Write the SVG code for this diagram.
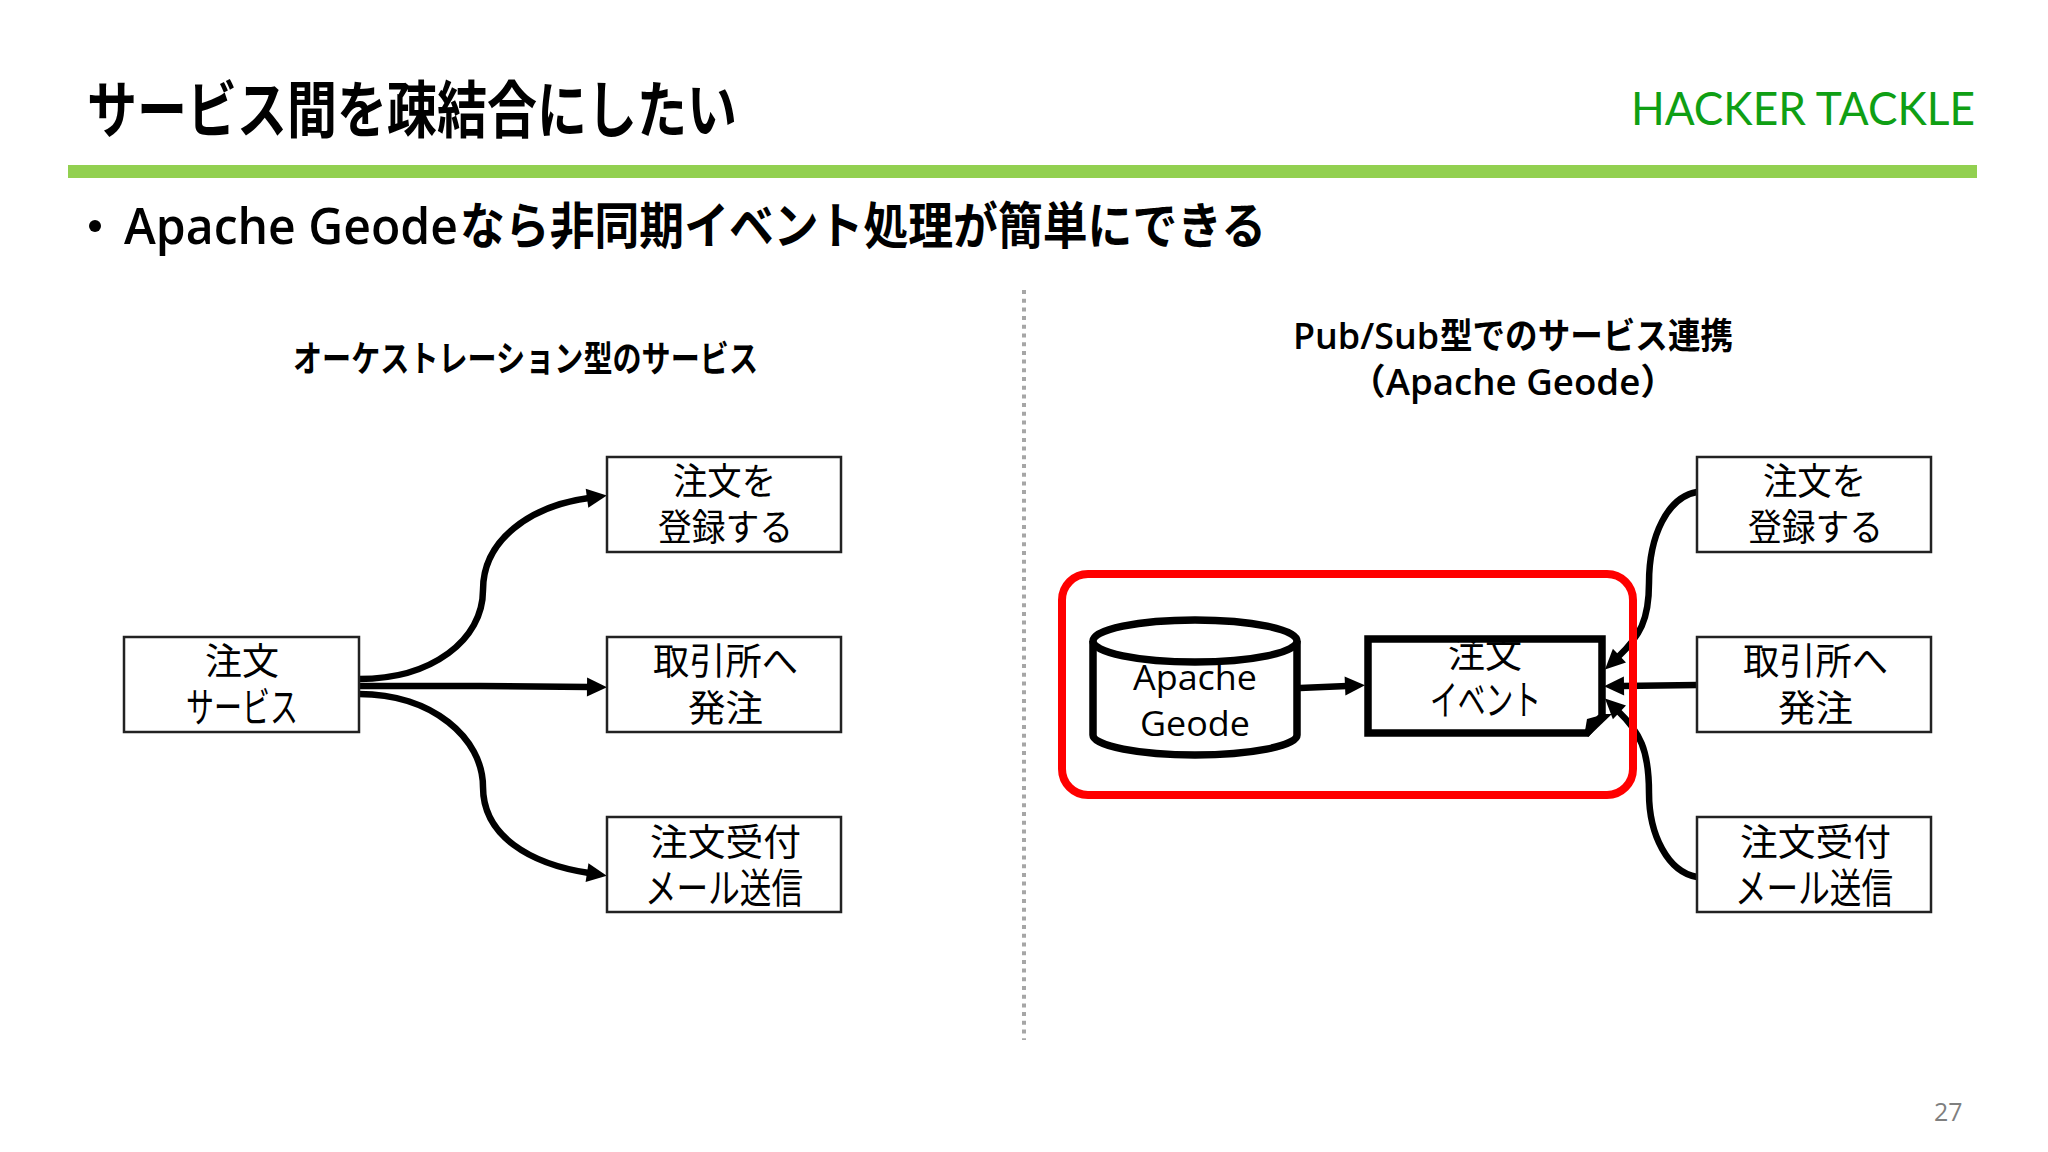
<svg xmlns="http://www.w3.org/2000/svg" width="2048" height="1152" viewBox="0 0 2048 1152">
<style>
text{font-family:"Noto Sans CJK JP","Noto Sans",sans-serif;fill:#000}
.lat{font-family:"Open Sans","Noto Sans CJK JP",sans-serif}
.box{fill:#fff;stroke:#222;stroke-width:2.5}
.n{font-size:37px;font-weight:400}
.k{font-size:41px;font-weight:400}
.con{fill:none;stroke:#000;stroke-width:6.5}
.heavy{fill:#fff;stroke:#000;stroke-width:7.5}
.h{font-size:36px;font-weight:700}
.s{font-weight:600}
</style>
<defs>
<marker id="arrow" markerUnits="userSpaceOnUse" markerWidth="24" markerHeight="22" refX="2" refY="11" orient="auto" overflow="visible"><path d="M0,1.5 L20,11 L0,20.5 Z" fill="#000"/></marker>
</defs>
<rect width="2048" height="1152" fill="#fff"/>
<text id="title" x="87" y="133" font-size="62" font-weight="700" textLength="650" lengthAdjust="spacingAndGlyphs">サービス間を疎結合にしたい</text>
<text id="logo" x="1631" y="125" font-size="47" style="font-family:Lato,sans-serif;fill:#0f9f14" textLength="344" lengthAdjust="spacingAndGlyphs">HACKER TACKLE</text>
<rect id="rule" x="68" y="165" width="1909" height="13" fill="#92d050"/>
<circle cx="95" cy="226" r="6" fill="#000"/>
<text id="bullet" y="244" font-size="50" font-weight="700"><tspan class="lat s" x="124" textLength="334" lengthAdjust="spacingAndGlyphs">Apache Geode</tspan><tspan x="460" textLength="806" lengthAdjust="spacingAndGlyphs">なら非同期イベント処理が簡単にできる</tspan></text>
<line id="divider" x1="1024" y1="290" x2="1024" y2="1040" stroke="#a6a6a6" stroke-width="4" stroke-dasharray="4 4.7"/>
<text id="h1" class="h" x="293" y="372" textLength="465" lengthAdjust="spacingAndGlyphs">オーケストレーション型のサービス</text>
<text id="h2" class="h" y="349"><tspan class="lat s" x="1293" textLength="146" lengthAdjust="spacingAndGlyphs">Pub/Sub</tspan><tspan x="1440" textLength="293" lengthAdjust="spacingAndGlyphs">型でのサービス連携</tspan></text>
<text id="h3" class="h lat s" x="1349" y="395" textLength="328" lengthAdjust="spacingAndGlyphs">（Apache Geode）</text>

<g id="connectors">
<path class="con" d="M359,679 C432,679 483,640 483,590 C483,540 530,506 589,498" marker-end="url(#arrow)"/>
<path class="con" d="M359,686 L480,686 L589,687" marker-end="url(#arrow)"/>
<path class="con" d="M359,694 C432,694 483,738 483,787 C483,836 530,864 589,873" marker-end="url(#arrow)"/>
<path class="con" d="M1697,492 C1668,497 1649,535 1649,583 C1649,620 1640,636 1618,657" marker-end="url(#arrow)"/>
<path class="con" d="M1697,685 L1622,686" marker-end="url(#arrow)"/>
<path class="con" d="M1697,877 C1668,872 1649,835 1649,793 C1649,750 1640,732 1618,711" marker-end="url(#arrow)"/>
<path class="con" d="M1300,688 L1347,686" marker-end="url(#arrow)"/>
</g>

<g id="n-order"><rect class="box" x="124" y="637" width="235" height="95"/>
<text class="n" x="205" y="675" textLength="74" lengthAdjust="spacingAndGlyphs">注文</text>
<text class="k" x="186" y="722" textLength="112" lengthAdjust="spacingAndGlyphs">サービス</text></g>
<g id="n-reg-l"><rect class="box" x="607" y="457" width="234" height="95"/>
<text class="n" x="673" y="495" textLength="103" lengthAdjust="spacingAndGlyphs">注文を</text>
<text class="n" x="658" y="541" textLength="135" lengthAdjust="spacingAndGlyphs">登録する</text></g>
<g id="n-ex-l"><rect class="box" x="607" y="637" width="234" height="95"/>
<text class="n" x="653" y="675" textLength="145" lengthAdjust="spacingAndGlyphs">取引所へ</text>
<text class="n" x="688" y="722" textLength="75" lengthAdjust="spacingAndGlyphs">発注</text></g>
<g id="n-mail-l"><rect class="box" x="607" y="817" width="234" height="95"/>
<text class="n" x="650" y="856" textLength="151" lengthAdjust="spacingAndGlyphs">注文受付</text>
<text class="k" x="645" y="903" textLength="158" lengthAdjust="spacingAndGlyphs">メール送信</text></g>

<g id="n-geode">
<path class="heavy" d="M1093,641 V735 C1093,746 1140,755 1195,755 C1250,755 1297,746 1297,735 V641"/>
<ellipse class="heavy" cx="1195" cy="641" rx="102" ry="21"/>
<text class="lat" x="1133" y="690" font-size="35" textLength="124" lengthAdjust="spacingAndGlyphs">Apache</text>
<text class="lat" x="1140" y="736" font-size="35" textLength="110" lengthAdjust="spacingAndGlyphs">Geode</text>
</g>
<g id="n-event">
<path class="heavy" d="M1368,639 H1602 V716 L1587,733 H1368 Z"/>
<path d="M1585,731 L1587,719 L1605,714 L1612,714 L1588,737 Z" fill="#000"/>
<text class="n" x="1448" y="668" textLength="74" lengthAdjust="spacingAndGlyphs">注文</text>
<text class="k" x="1430" y="715" textLength="111" lengthAdjust="spacingAndGlyphs">イベント</text>
</g>
<rect id="highlight" x="1062" y="574" width="571" height="221" rx="26" fill="none" stroke="#f00" stroke-width="8"/>

<g id="n-reg-r"><rect class="box" x="1697" y="457" width="234" height="95"/>
<text class="n" x="1763" y="495" textLength="103" lengthAdjust="spacingAndGlyphs">注文を</text>
<text class="n" x="1748" y="541" textLength="135" lengthAdjust="spacingAndGlyphs">登録する</text></g>
<g id="n-ex-r"><rect class="box" x="1697" y="637" width="234" height="95"/>
<text class="n" x="1743" y="675" textLength="145" lengthAdjust="spacingAndGlyphs">取引所へ</text>
<text class="n" x="1778" y="722" textLength="75" lengthAdjust="spacingAndGlyphs">発注</text></g>
<g id="n-mail-r"><rect class="box" x="1697" y="817" width="234" height="95"/>
<text class="n" x="1740" y="856" textLength="151" lengthAdjust="spacingAndGlyphs">注文受付</text>
<text class="k" x="1735" y="903" textLength="158" lengthAdjust="spacingAndGlyphs">メール送信</text></g>
<text id="page" class="lat" x="1934" y="1121" font-size="25" style="fill:#7f7f7f">27</text>
</svg>
